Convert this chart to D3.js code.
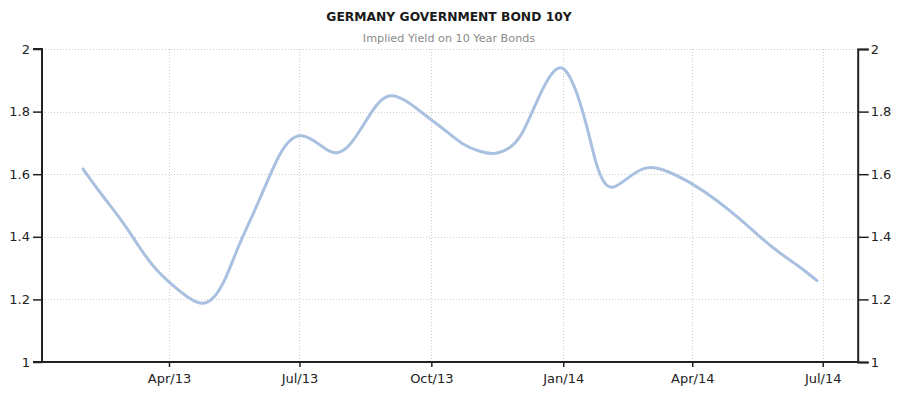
<!DOCTYPE html>
<html>
<head>
<meta charset="utf-8">
<script src="https://cdn.jsdelivr.net/npm/d3@7"></script>
<style>
  html, body { margin: 0; padding: 0; background: #fff; }
  svg { display: block; }
  text { font-family: "DejaVu Sans", Verdana, sans-serif; }
</style>
</head>
<body>
<svg id="chart" width="902" height="397"></svg>
<script>
// ---- data ----
const title = "GERMANY GOVERNMENT BOND 10Y";
const subtitle = "Implied Yield on 10 Year Bonds";

const dates = [
  "2013-01-31","2013-02-14","2013-02-28","2013-03-14","2013-03-23","2013-04-02",
  "2013-04-13","2013-04-24","2013-05-02","2013-05-11","2013-05-19","2013-05-30",
  "2013-06-06","2013-06-13","2013-06-20","2013-06-30","2013-07-11","2013-07-20",
  "2013-07-27","2013-08-05","2013-08-14","2013-08-24","2013-09-02","2013-09-11",
  "2013-09-21","2013-10-01","2013-10-12","2013-10-23","2013-11-04","2013-11-15",
  "2013-11-25","2013-12-02","2013-12-09","2013-12-16","2013-12-23","2013-12-30",
  "2014-01-04","2014-01-10","2014-01-15","2014-01-20","2014-01-24","2014-01-29",
  "2014-02-04","2014-02-16","2014-02-28","2014-03-14","2014-04-01","2014-04-18",
  "2014-05-04","2014-05-18","2014-06-01","2014-06-15","2014-06-27"
];
const yields = [
  1.617,1.528,1.448,1.347,1.294,1.251,
  1.209,1.180,1.198,1.267,1.368,1.475,
  1.550,1.624,1.690,1.733,1.709,1.677,
  1.662,1.688,1.752,1.828,1.858,1.842,
  1.810,1.773,1.736,1.693,1.671,1.662,
  1.683,1.715,1.784,1.858,1.920,1.948,
  1.928,1.869,1.795,1.709,1.629,1.572,
  1.547,1.592,1.629,1.613,1.571,1.518,
  1.459,1.400,1.347,1.305,1.260
];
const xTickDates = ["2013-04-01","2013-07-01","2013-10-01","2014-01-01","2014-04-01","2014-07-01"];
const yTicks = [1, 1.2, 1.4, 1.6, 1.8, 2];
const xDomain = ["2013-01-02T10:00","2014-07-25T10:00"];
const yDomain = [1, 2];

// ---- drawing ----
(function () {
const parse = s => new Date(s);
const data = dates.map((d, i) => ({ date: parse(d), value: yields[i] }));

const pL = 42, pR = 857.7, pT = 49, pB = 362;
const svg = d3.select("#chart");

const x = d3.scaleTime().domain(xDomain.map(parse)).range([pL, pR]);
const y = d3.scaleLinear().domain(yDomain).range([pB, pT]);

// title
svg.append("text").attr("x", 449).attr("y", 21).attr("text-anchor", "middle")
  .attr("font-size", 12.3).attr("font-weight", "bold").attr("fill", "#1a1a1a")
  .text(title);
svg.append("text").attr("x", 449).attr("y", 42).attr("text-anchor", "middle")
  .attr("font-size", 11.2).attr("fill", "#8a8a8a")
  .text(subtitle);

// gridlines
const grid = svg.append("g").attr("stroke", "#cfcfcf").attr("stroke-width", 1)
  .attr("stroke-dasharray", "1,2").attr("fill", "none");
yTicks.filter(v => v > yDomain[0]).forEach(v => {
  grid.append("line").attr("x1", pL).attr("x2", pR)
    .attr("y1", Math.round(y(v)) + 0.5).attr("y2", Math.round(y(v)) + 0.5);
});
xTickDates.map(parse).forEach(d => {
  grid.append("line").attr("y1", pT).attr("y2", pB)
    .attr("x1", Math.round(x(d)) + 0.5).attr("x2", Math.round(x(d)) + 0.5);
});

// line
const line = d3.line().x(d => x(d.date)).y(d => y(d.value))
  .curve(d3.curveBasis);
svg.append("path").datum(data).attr("d", line)
  .attr("fill", "none").attr("stroke", "#a9c0e1").attr("stroke-width", 3)
  .attr("stroke-linecap", "round").attr("stroke-linejoin", "round");

// axes
const fmtY = d3.format("");
const axisLeft = d3.axisLeft(y).tickValues(yTicks).tickFormat(v => fmtY(v)).tickSize(9).tickPadding(3);
const axisRight = d3.axisRight(y).tickValues(yTicks).tickFormat(v => fmtY(v)).tickSize(11).tickPadding(2);
const axisBottom = d3.axisBottom(x).tickValues(xTickDates.map(parse))
  .tickFormat(d3.timeFormat("%b/%y")).tickSize(5).tickPadding(7);

function style(g) {
  g.selectAll("path.domain").attr("stroke", "#222").attr("stroke-width", 2);
  g.selectAll(".tick line").attr("stroke", "#222").attr("stroke-width", 1.5);
  g.selectAll(".tick text").attr("fill", "#222").attr("font-size", 13)
    .attr("font-family", "DejaVu Sans, Verdana, sans-serif");
}
const gL = svg.append("g").attr("transform", `translate(${pL},0)`).call(axisLeft);
gL.call(g => g.select(".domain").attr("d", `M-9,${pT}H0V${pB}H-9`));
style(gL);
const gR = svg.append("g").attr("transform", `translate(${pR},0)`).call(axisRight);
style(gR);
const gB = svg.append("g").attr("transform", `translate(0,${pB})`).call(axisBottom);
gB.call(g => g.select(".domain").attr("d", `M${pL},0H${pR}`));
style(gB);
})();
</script>
</body>
</html>
